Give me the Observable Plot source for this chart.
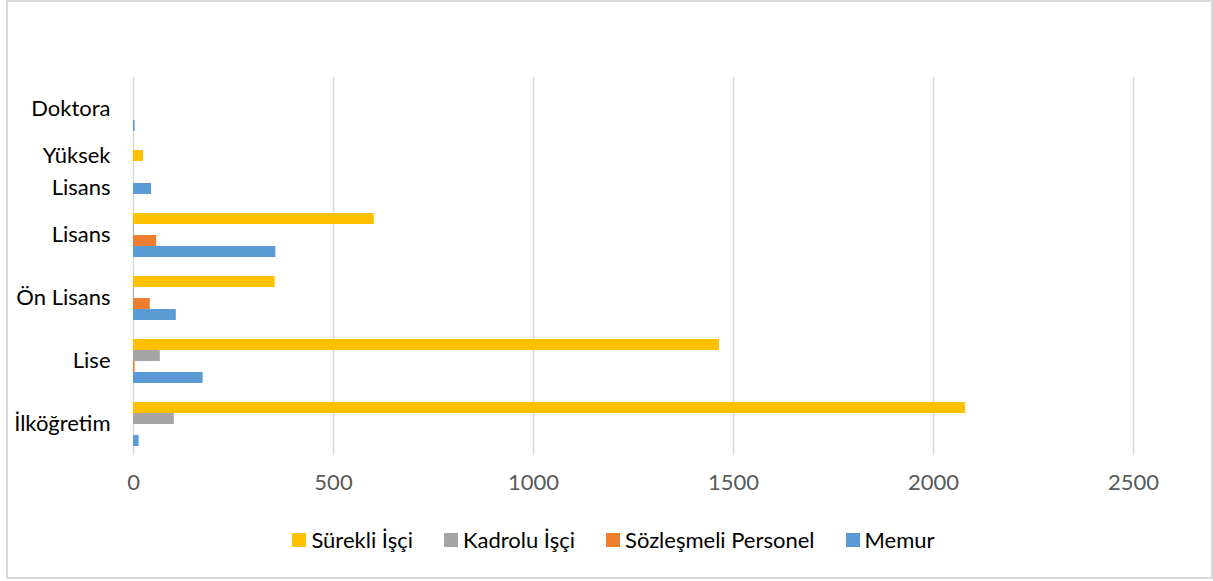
<!DOCTYPE html>
<html>
<head>
<meta charset="utf-8">
<script src="https://cdn.jsdelivr.net/npm/d3@7"></script>
<script src="https://cdn.jsdelivr.net/npm/@observablehq/plot@0.6"></script>
<style>
  html, body { margin: 0; padding: 0; background: #fff; }
  #wrap { position: relative; width: 1213px; height: 581px; overflow: hidden; font-family: Lato, "Open Sans", sans-serif; }
  #chart { position: absolute; left: 0; top: 0; }
  #frame { position: absolute; left: 6px; top: 0; width: 1207px; height: 579px; box-sizing: border-box; border: 2px solid #d9d9d9; pointer-events: none; }
  #legend { position: absolute; left: 0; top: 526px; width: 1213px; display: flex; justify-content: center; padding-left: 14px; box-sizing: border-box; font-size: 22px; color: #000; }
  .item { display: flex; align-items: center; margin: 0 15.5px; }
  .sw { width: 14px; height: 14px; margin-right: 5px; }
</style>
</head>
<body>
<div id="wrap">
  <div id="chart"></div>
  <div id="legend"></div>
  <div id="frame"></div>
</div>
<script>
const categories = ["Doktora", "Yüksek Lisans", "Lisans", "Ön Lisans", "Lise", "İlköğretim"];
const series = ["Sürekli İşçi", "Kadrolu İşçi", "Sözleşmeli Personel", "Memur"];
const colors = ["#FFC000", "#A5A5A5", "#ED7D31", "#5B9BD5"];
const surekliIsci = [0, 25, 602, 354, 1465, 2080];
const kadroluIsci = [0, 0, 2, 2, 67, 102];
const sozlesmeliPersonel = [0, 0, 58, 42, 4, 0];
const memur = [4, 45, 356, 107, 174, 14];
const xTicks = [0, 500, 1000, 1500, 2000, 2500];

const valuesBySeries = [surekliIsci, kadroluIsci, sozlesmeliPersonel, memur];
const data = [];
categories.forEach((c, i) => {
  series.forEach((s, j) => {
    data.push({category: c, series: s, value: valuesBySeries[j][i]});
  });
});

const chart = Plot.plot({
  width: 1213,
  height: 515,
  marginTop: 75,
  marginBottom: 58,
  marginLeft: 133,
  marginRight: 80,
  style: {fontFamily: "Lato, 'Open Sans', sans-serif", fontSize: "22px", background: "transparent"},
  x: {domain: [0, 2500]},
  y: {domain: series, paddingInner: 0, paddingOuter: 0.77, axis: null},
  fy: {domain: categories, padding: 0},
  color: {domain: series, range: colors},
  marks: [
    Plot.gridX(xTicks, {stroke: "#d9d9d9", strokeOpacity: 1, strokeWidth: 1.5}),
    Plot.barX(data, {x: "value", y: "series", fy: "category", fill: "series"}),
    Plot.axisX({ticks: xTicks, tickSize: 0, tickPadding: 19, color: "#595959", label: null, tickFormat: d => String(d)}),
    Plot.axisFy({
      anchor: "left",
      tickSize: 0, tickPadding: 23, color: "#000", label: null, lineHeight: 1.42, dy: -3,
      tickFormat: d => d === "Yüksek Lisans" ? "Yüksek\nLisans" : d
    })
  ]
});
document.getElementById("chart").appendChild(chart);

const legend = document.getElementById("legend");
series.forEach((s, i) => {
  const item = document.createElement("div");
  item.className = "item";
  const sw = document.createElement("span");
  sw.className = "sw";
  sw.style.background = colors[i];
  const t = document.createElement("span");
  t.textContent = s;
  item.appendChild(sw);
  item.appendChild(t);
  legend.appendChild(item);
});
</script>
</body>
</html>
